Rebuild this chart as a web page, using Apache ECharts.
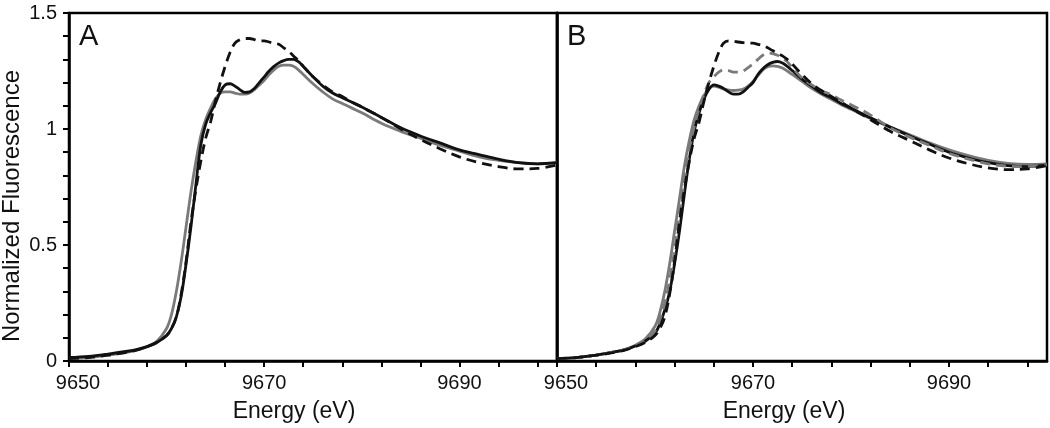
<!DOCTYPE html>
<html>
<head>
<meta charset="utf-8">
<script src="https://cdn.jsdelivr.net/npm/echarts@6/dist/echarts.min.js"></script>
<style>
html,body{margin:0;padding:0;background:#fff;}
#chart{width:1050px;height:428px;}
</style>
</head>
<body>
<div id="chart"></div>
<script>
// Energy grid (eV)
const energy = [9650,9652,9654,9656,9657,9658,9659,9660,9660.5,9661,9661.5,9662,9662.5,9663,9663.5,9664,9664.5,9665,9665.5,9666,9666.5,9667,9667.5,9668,9668.5,9669,9669.5,9670,9670.5,9671,9671.5,9672,9672.5,9673,9673.5,9674,9675,9676,9677,9678,9679,9680,9682,9684,9686,9688,9690,9692,9694,9696,9698,9700];

// Panel A
const A_black = [0.015,0.02,0.03,0.042,0.05,0.062,0.08,0.11,0.14,0.19,0.28,0.42,0.58,0.76,0.93,1.02,1.07,1.11,1.16,1.19,1.195,1.185,1.17,1.158,1.16,1.175,1.2,1.225,1.25,1.27,1.285,1.295,1.3,1.3,1.29,1.27,1.225,1.185,1.155,1.135,1.115,1.095,1.05,1.005,0.97,0.94,0.91,0.89,0.87,0.855,0.85,0.855];
const A_gray = [0.01,0.015,0.025,0.038,0.048,0.062,0.085,0.14,0.2,0.3,0.43,0.58,0.73,0.86,0.97,1.04,1.09,1.13,1.155,1.16,1.16,1.155,1.15,1.15,1.155,1.17,1.19,1.21,1.235,1.255,1.27,1.275,1.275,1.27,1.255,1.235,1.195,1.16,1.13,1.11,1.09,1.07,1.025,0.99,0.96,0.93,0.905,0.88,0.865,0.855,0.85,0.855];
const A_dash = [0.01,0.015,0.025,0.038,0.048,0.062,0.08,0.11,0.14,0.19,0.29,0.43,0.6,0.74,0.86,0.96,1.03,1.12,1.2,1.27,1.33,1.37,1.385,1.39,1.39,1.385,1.38,1.38,1.375,1.37,1.365,1.35,1.335,1.315,1.295,1.27,1.225,1.19,1.16,1.14,1.115,1.095,1.05,1.0,0.955,0.915,0.88,0.855,0.838,0.828,0.83,0.845];

// Panel B
const B_black = [0.01,0.015,0.025,0.04,0.05,0.065,0.085,0.12,0.16,0.22,0.3,0.42,0.56,0.72,0.87,0.99,1.07,1.13,1.17,1.19,1.185,1.175,1.16,1.15,1.15,1.16,1.18,1.2,1.235,1.26,1.277,1.287,1.291,1.285,1.27,1.252,1.215,1.185,1.155,1.135,1.11,1.09,1.048,1.008,0.97,0.935,0.9,0.875,0.855,0.842,0.838,0.845];
const B_gray = [0.01,0.015,0.025,0.04,0.05,0.068,0.095,0.15,0.21,0.3,0.42,0.56,0.7,0.84,0.95,1.04,1.1,1.145,1.175,1.185,1.18,1.172,1.168,1.166,1.168,1.172,1.185,1.205,1.23,1.255,1.268,1.272,1.27,1.263,1.25,1.235,1.205,1.175,1.15,1.128,1.105,1.085,1.045,1.008,0.975,0.94,0.91,0.885,0.865,0.852,0.847,0.85];
const B_dashBlack = [0.01,0.015,0.025,0.038,0.048,0.062,0.08,0.11,0.14,0.19,0.29,0.43,0.6,0.74,0.86,0.96,1.03,1.12,1.2,1.27,1.33,1.37,1.38,1.378,1.375,1.372,1.37,1.37,1.365,1.36,1.35,1.338,1.327,1.315,1.3,1.28,1.235,1.195,1.165,1.14,1.115,1.09,1.04,0.99,0.95,0.91,0.875,0.85,0.832,0.825,0.828,0.842];
const B_dashGray = [0.01,0.015,0.025,0.04,0.05,0.065,0.09,0.13,0.18,0.25,0.35,0.48,0.63,0.78,0.91,1.01,1.09,1.15,1.2,1.225,1.245,1.255,1.252,1.245,1.245,1.25,1.265,1.28,1.3,1.318,1.327,1.325,1.318,1.305,1.29,1.265,1.22,1.19,1.165,1.148,1.125,1.105,1.06,1.005,0.965,0.93,0.895,0.87,0.85,0.84,0.838,0.845];

// Ticks
const xTickValues = [9650,9654,9658,9662,9666,9670,9674,9678,9682,9686,9690,9694,9698];
const xLabelValues = [9650,9670,9690];
const yLabelValues = [0,0.5,1,1.5];

const BLACK = '#111111', GRAY = '#7a7a7a';
const pairs = v => energy.map((e,i)=>[e, v[i]]);
const FONT = 'Liberation Sans, Arial, sans-serif';

function xAxis(gi){
  return {
    type:'value', gridIndex:gi, min:9650, max:9700,
    axisLine:{show:true, onZero:false, lineStyle:{color:'#000', width:2.5}},
    axisTick:{show:true, length:6, customValues:xTickValues, lineStyle:{color:'#000', width:2}},
    axisLabel:{show:true, customValues:xLabelValues, margin:12, color:'#111', fontSize:20, fontFamily:FONT,
      formatter: v => v === 9650 ? '{first|' + v + '}' : String(v),
      rich:{first:{fontSize:20, fontFamily:FONT, color:'#111', padding:[0,0,0,18]}}},
    splitLine:{show:false}
  };
}
function yAxis(gi, labels){
  return {
    type:'value', gridIndex:gi, min:0, max:1.5, interval:0.1,
    axisLine:{show:true, lineStyle:{color:'#000', width:2.5}},
    axisTick:{show:labels, length:6, lineStyle:{color:'#000', width:2}},
    axisLabel:{show:labels, customValues:yLabelValues, margin:12, color:'#111', fontSize:20, fontFamily:FONT,
      formatter: v => String(Math.round(v*10)/10)},
    splitLine:{show:false}
  };
}
function line(name, data, gi, color, dashed, z){
  return {
    name, type:'line', xAxisIndex:gi, yAxisIndex:gi, data:pairs(data),
    showSymbol:false, smooth:0.35, z:z,
    lineStyle:{color, width:2.8, type: dashed ? [10,6] : 'solid'}
  };
}

const chart = echarts.init(document.getElementById('chart'), null, {renderer:'canvas'});
chart.setOption({
  animation:false,
  backgroundColor:'#fff',
  grid:[
    {left:69, right:493, top:13, bottom:67, show:true, borderColor:'#000', borderWidth:2.5, containLabel:false},
    {left:557, right:3, top:13, bottom:67, show:true, borderColor:'#000', borderWidth:2.5, containLabel:false}
  ],
  xAxis:[xAxis(0), xAxis(1)],
  yAxis:[yAxis(0,true), yAxis(1,false)],
  series:[
    line('A gray', A_gray, 0, GRAY, false, 2),
    line('A black', A_black, 0, BLACK, false, 3),
    line('A dashed', A_dash, 0, BLACK, true, 4),
    line('B gray', B_gray, 1, GRAY, false, 2),
    line('B black', B_black, 1, BLACK, false, 3),
    line('B gray dashed', B_dashGray, 1, GRAY, true, 4),
    line('B dashed', B_dashBlack, 1, BLACK, true, 5)
  ],
  graphic:[
    {type:'text', left:79, top:22, style:{text:'A', fontSize:29, fontFamily:FONT, fill:'#111'}},
    {type:'text', left:567, top:22, style:{text:'B', fontSize:29, fontFamily:FONT, fill:'#111'}},
    {type:'text', x:294, y:412, style:{text:'Energy (eV)', fontSize:23, fontFamily:FONT, fill:'#111', align:'center', verticalAlign:'middle'}},
    {type:'text', x:784, y:412, style:{text:'Energy (eV)', fontSize:23, fontFamily:FONT, fill:'#111', align:'center', verticalAlign:'middle'}},
    {type:'text', x:12, y:206, rotation:Math.PI/2, style:{text:'Normalized Fluorescence', fontSize:24, fontFamily:FONT, fill:'#111', align:'center', verticalAlign:'middle'}}
  ]
});
</script>
</body>
</html>
